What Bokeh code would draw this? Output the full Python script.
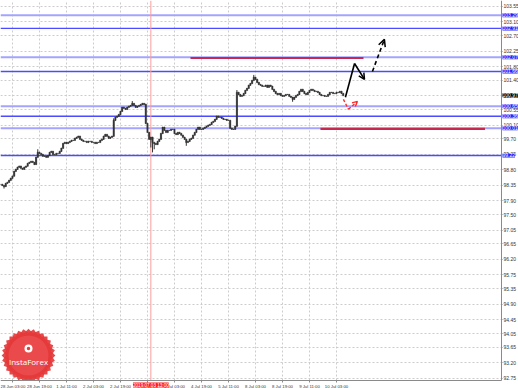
import math
from bokeh.plotting import figure
from bokeh.models import (Range1d, FixedTicker, PrintfTickFormatter, Span, Label,
                          Arrow, OpenHead, ColumnDataSource)
from bokeh.embed import file_html
from bokeh.resources import INLINE
from bokeh.core.properties import value

# ---------------- data ----------------
first_bar = -7  # bar index of first candle (index 0 = 28 Jun 03:00, H1 bars)
closes = [
    98.38, 98.35, 98.32, 98.41, 98.44, 98.50, 98.56,
    98.62, 98.76, 98.82, 98.88, 98.91, 98.85, 98.82, 98.88, 98.91, 98.99,
    99.02, 99.05, 99.02, 98.96, 99.17, 99.31, 99.28, 99.25, 99.20, 99.20,
    99.17, 99.22, 99.31, 99.34, 99.25, 99.25, 99.28, 99.28, 99.34, 99.43,
    99.57, 99.60, 99.57, 99.60, 99.63, 99.66, 99.66, 99.72, 99.75, 99.78,
    99.69, 99.66, 99.63, 99.63, 99.60, 99.63, 99.63, 99.60, 99.60, 99.57,
    99.60, 99.60, 99.66, 99.69, 99.78, 99.83, 99.78, 99.72, 99.75, 99.78,
    100.24, 100.33, 100.36, 100.41, 100.50, 100.62, 100.59, 100.56, 100.62, 100.65,
    100.67, 100.73, 100.67, 100.62, 100.65, 100.67, 100.70, 100.73, 100.70, 100.15,
    99.89, 99.69, 99.75, 99.60, 99.57, 99.54, 99.63, 99.69, 99.86, 100.04,
    99.95, 99.89, 99.95, 99.95, 99.98, 99.98, 99.86, 99.83, 99.89, 99.86,
    99.81, 99.75, 99.69, 99.60, 99.63, 99.69, 99.72, 99.81, 99.89, 99.98,
    100.04, 99.98, 99.98, 100.01, 100.04, 100.07, 100.10, 100.12, 100.18, 100.21,
    100.27, 100.36, 100.33, 100.33, 100.30, 100.27, 100.27, 100.24, 100.24, 100.01,
    99.98, 99.98, 100.07, 101.05, 100.99, 100.94, 100.96, 101.02, 101.11, 101.17,
    101.26, 101.31, 101.40, 101.49, 101.43, 101.34, 101.28, 101.26, 101.23, 101.23,
    101.26, 101.20, 101.26, 101.23, 101.14, 101.08, 101.02, 100.99, 101.02, 100.96,
    100.94, 100.96, 100.99, 100.99, 100.94, 100.91, 100.85, 100.91, 100.96, 100.99,
    101.08, 101.14, 101.08, 101.02, 100.99, 101.05, 101.11, 101.14, 101.11, 101.08,
    101.08, 101.05, 100.99, 100.96, 100.96, 100.94, 100.94, 100.99, 101.05, 101.05,
    101.02, 101.02, 101.05, 101.05, 101.08, 101.02, 100.96,
]
spike_bars = [-5, 15, 60, 71, 79, 82, 83, 84, 103, 133, 143, 166]
spike_prices = [98.26, 99.40, 100.30, 100.80, 100.72, 99.45, 99.31, 99.40, 99.50, 101.12, 101.56, 100.78]

time_ticks = [0, 16, 32, 48, 64, 80, 96, 112, 128, 144, 160, 176, 192]
time_labels = ["28 Jun 03:00", "28 Jun 19:00", "1 Jul 11:00", "2 Jul 03:00", "2 Jul 19:00",
               "3 Jul 11:00", "4 Jul 03:00", "4 Jul 19:00", "5 Jul 11:00", "8 Jul 03:00",
               "8 Jul 19:00", "9 Jul 11:00", "10 Jul 03:00"]
price_ticks = [92.75, 93.20, 93.65, 94.05, 94.45, 94.90, 95.35, 95.75, 96.20, 96.65, 97.05,
               97.50, 97.90, 98.35, 98.80, 99.25, 99.70, 100.10, 100.55, 100.95, 101.40,
               101.80, 102.25, 102.70, 103.10, 103.55]

levels = [103.29, 102.91, 102.07, 101.66, 100.65, 100.36, 100.01, 99.22]
level_labels = ["103.29", "102.91", "102.07", "101.66", "100.65", "100.36", "100.01", "99.22"]
level_heavy = [True, False, True, False, True, False, True, False]

red_levels = [102.05, 99.99]
red_from = [105.5, 182.5]
red_to = [208.0, 280.0]

current_price = 100.97
current_label = "100.97"
marker_bar = 82
marker_label = "2019.07.03 13:00"

solid_x = [197.3, 202.7, 208.6]
solid_y = [100.91, 101.89, 101.43]
dash_x = [213.3, 220.4]
dash_y = [101.66, 102.59]
alt_x = [196.1, 199.1, 204.4]
alt_y = [100.85, 100.56, 100.79]

# ---------------- derived ----------------
bars = list(range(first_bar, first_bar + len(closes)))
opens = [closes[0]] + closes[:-1]
highs = [max(o, c) for o, c in zip(opens, closes)]
lows = [min(o, c) for o, c in zip(opens, closes)]
for b, pr in zip(spike_bars, spike_prices):
    k = b - first_bar
    highs[k] = max(highs[k], pr)
    lows[k] = min(lows[k], pr)
tops = [max(o, c) + 0.006 for o, c in zip(opens, closes)]
bottoms = [min(o, c) - 0.006 for o, c in zip(opens, closes)]
src = ColumnDataSource(dict(x=bars, top=tops, bottom=bottoms, hi=highs, lo=lows))

W, H = 518, 388
PX_BAR = 1.6875          # pixels per H1 bar
PX_PRICE = 34.44         # pixels per price unit
XMIN = -7.1
XMAX = XMIN + W / PX_BAR
AXIS_X = XMIN + 501 / PX_BAR      # price axis position
YTOP = 103.72
AXIS_Y = YTOP - 380 / PX_PRICE    # time axis position
YMIN = YTOP - H / PX_PRICE

p = figure(width=W, height=H, output_backend="svg", toolbar_location=None,
           y_axis_location="right", x_range=Range1d(XMIN, XMAX), y_range=Range1d(YMIN, YTOP),
           min_border=0)
p.outline_line_color = None
p.background_fill_color = "white"
p.border_fill_color = "white"

FONT = "Liberation Sans"
ax = p.yaxis[0]
ax.fixed_location = AXIS_X
ax.bounds = (AXIS_Y, YTOP)
ax.ticker = FixedTicker(ticks=price_ticks)
ax.formatter = PrintfTickFormatter(format="%.2f")
ax.major_label_text_font = FONT
ax.major_label_text_font_size = "5px"
ax.major_label_text_color = "#333333"
ax.major_tick_out = 1
ax.major_tick_in = 0
ax.minor_tick_out = 0
ax.minor_tick_in = 0
ax.major_label_standoff = 1
ax.axis_line_color = "#8a8a8a"
ax.major_tick_line_color = "#8a8a8a"

bx_ = p.xaxis[0]
bx_.fixed_location = AXIS_Y
bx_.bounds = (XMIN, AXIS_X)
bx_.ticker = FixedTicker(ticks=time_ticks)
bx_.major_label_overrides = {t: l for t, l in zip(time_ticks, time_labels)}
bx_.major_label_text_font = FONT
bx_.major_label_text_font_size = "4.3px"
bx_.major_label_text_color = "#333333"
bx_.major_label_text_align = "left"
bx_.major_tick_out = 2
bx_.major_tick_in = 0
bx_.minor_tick_out = 0
bx_.minor_tick_in = 0
bx_.major_label_standoff = 1
bx_.axis_line_color = "#8a8a8a"
bx_.major_tick_line_color = "#8a8a8a"

for g in (p.xgrid, p.ygrid):
    g.grid_line_color = "#cccccc"
    g.grid_line_dash = "2 2"
    g.grid_line_width = 1

# horizontal levels
for lv, heavy in zip(levels, level_heavy):
    p.add_layout(Span(location=lv, dimension="width", level="underlay",
                      line_color="#a4a4ff" if heavy else "#4b4bff",
                      line_width=2.0 if heavy else 1.4))

# red vertical marker
p.add_layout(Span(location=marker_bar, dimension="height", level="underlay",
                  line_color="#ff9c9c", line_width=1))

# crimson levels
p.segment(x0=red_from, y0=red_levels, x1=red_to, y1=red_levels,
          line_color="#c8284f", line_width=2.2)

# candles
p.segment(x0="x", y0="lo", x1="x", y1="hi", source=src, line_color="#333333", line_width=1)
p.vbar(x="x", top="top", bottom="bottom", width=0.7, source=src,
       fill_color="#333333", line_color="#333333", line_width=0.6)

# InstaForex badge (decoration)
bcx = XMIN + 28 / PX_BAR
bcy = YTOP - 355 / PX_PRICE
for k in range(8):
    p.scatter([bcx], [bcy], marker="square", size=38, angle=k * math.pi / 16,
              fill_color="#e5393b", line_color=None, fill_alpha=0.92)
p.scatter([bcx], [bcy], marker="circle", size=40, fill_color="#ee5a5a", line_color=None,
          fill_alpha=0.55)
p.scatter([bcx], [bcy + 7 / PX_PRICE], marker="circle", size=8, fill_color="white",
          line_color=None)
p.scatter([bcx], [bcy + 7 / PX_PRICE], marker="circle", size=3.5, fill_color="#e5393b",
          line_color=None)
p.text([bcx], [bcy - 6 / PX_PRICE], text=["InstaForex"], text_font=value("Open Sans"),
       text_font_size="8px", text_color="white", text_align="center", text_baseline="middle")

# white masks for the axis areas (hide grid there)
p.quad(left=[AXIS_X], right=[XMAX], bottom=[YMIN], top=[YTOP], fill_color="white",
       line_color=None)
p.quad(left=[XMIN], right=[XMAX], bottom=[YMIN], top=[AXIS_Y], fill_color="white",
       line_color=None)

# forecast drawings
p.line(solid_x[:2], solid_y[:2], line_color="black", line_width=1.6)
p.add_layout(Arrow(end=OpenHead(size=6, line_color="black", line_width=1.5),
                   x_start=solid_x[1], y_start=solid_y[1], x_end=solid_x[2], y_end=solid_y[2],
                   line_color="black", line_width=1.6))
p.add_layout(Arrow(end=OpenHead(size=7, line_color="black", line_width=1.5),
                   x_start=dash_x[0], y_start=dash_y[0], x_end=dash_x[1], y_end=dash_y[1],
                   line_color="black", line_width=1.6, line_dash="4 3"))
p.line(alt_x[:2], alt_y[:2], line_color="#ff2a2a", line_width=1.4, line_dash="3 2")
p.add_layout(Arrow(end=OpenHead(size=5, line_color="#ff2a2a", line_width=1.4),
                   x_start=alt_x[1], y_start=alt_y[1], x_end=alt_x[2], y_end=alt_y[2],
                   line_color="#ff2a2a", line_width=1.4, line_dash="3 2"))

# price tags on the price axis
tag_x = AXIS_X + 1.0 / PX_BAR
for lv, txt in zip(levels, level_labels):
    p.add_layout(Label(x=tag_x, y=lv, text=txt, text_font=FONT, text_font_size="5px",
                       text_color="white", text_baseline="middle", text_align="left",
                       background_fill_color="#2323ff"))
p.add_layout(Label(x=tag_x, y=current_price, text=current_label, text_font=FONT,
                   text_font_size="5px", text_color="white", text_baseline="middle",
                   text_align="left", background_fill_color="black"))
# time tag for the marker line
p.add_layout(Label(x=marker_bar, y=AXIS_Y - 4.5 / PX_PRICE, text=marker_label, text_font=FONT,
                   text_font_size="4.6px", text_color="white", text_baseline="middle",
                   text_align="center", background_fill_color="#ff1a1a"))

open("out.html", "w").write(file_html(p, INLINE))
